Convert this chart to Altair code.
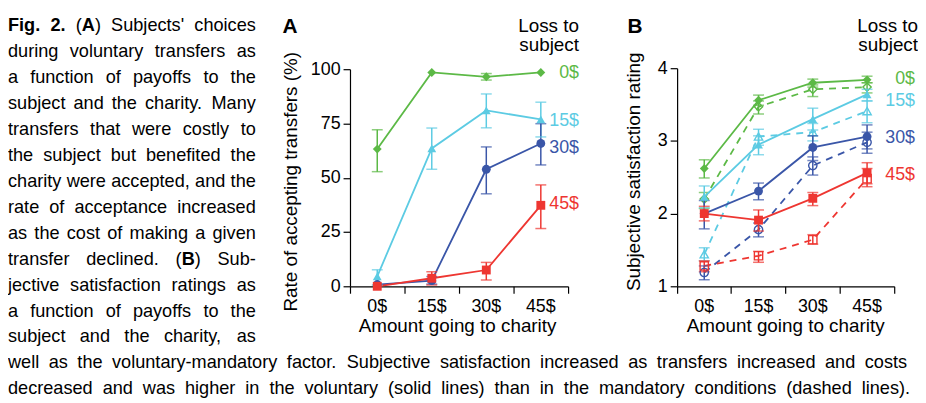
import altair as alt
import pandas as pd

FONT = "Liberation Sans"

# ---------------- data ----------------
amounts = ["0$", "15$", "30$", "45$"]
losses = ["0$", "15$", "30$", "45$"]
colors = ["#5cb946", "#5ccbe3", "#3a56a8", "#ee3631"]
shapes = ["diamond", "triangle-up", "circle", "square"]

# Panel A: rate of accepting transfers (%), rows = loss to subject, cols = amount to charity
a_mean = [[63.2, 98.5, 96.5, 98.5],
          [4.6, 63.5, 81.0, 76.9],
          [0.8, 2.6, 53.9, 65.8],
          [0.0, 3.7, 7.5, 37.3]]
a_lo = [[52.8, 98.5, 95.0, 98.5],
        [0.5, 53.9, 73.0, 68.8],
        [0.0, 1.0, 42.6, 55.9],
        [0.0, 0.6, 2.9, 26.6]]
a_hi = [[72.1, 98.5, 98.0, 98.5],
        [7.6, 72.9, 88.6, 84.8],
        [1.5, 4.5, 64.2, 74.9],
        [0.0, 6.7, 11.0, 46.7]]

# Panel B: subjective satisfaction, voluntary (solid)
bv_mean = [[2.62, 3.56, 3.80, 3.84],
           [2.23, 2.95, 3.30, 3.64],
           [2.00, 2.31, 2.91, 3.06],
           [2.00, 1.91, 2.21, 2.56]]
bv_lo = [[2.49, 3.49, 3.74, 3.80],
         [2.08, 2.81, 3.15, 3.55],
         [1.79, 2.19, 2.73, 2.89],
         [1.90, 1.76, 2.11, 2.41]]
bv_hi = [[2.74, 3.63, 3.85, 3.89],
         [2.38, 3.07, 3.45, 3.71],
         [2.18, 2.42, 3.07, 3.22],
         [2.10, 2.05, 2.29, 2.70]]
# Panel B: mandatory (dashed)
bm_mean = [[2.20, 3.47, 3.71, 3.74],
           [1.44, 3.06, 3.12, 3.41],
           [1.19, 1.78, 2.66, 2.98],
           [1.28, 1.42, 1.64, 2.48]]
bm_lo = [[2.07, 3.37, 3.61, 3.66],
         [1.35, 2.94, 3.00, 3.25],
         [1.09, 1.68, 2.53, 2.83],
         [1.20, 1.33, 1.58, 2.37]]
bm_hi = [[2.29, 3.55, 3.77, 3.80],
         [1.53, 3.16, 3.24, 3.55],
         [1.28, 1.87, 2.78, 3.12],
         [1.35, 1.48, 1.71, 2.62]]

caption_left = [
    "**Fig. 2.** (**A**) Subjects' choices",
    "during voluntary transfers as",
    "a function of payoffs to the",
    "subject and the charity. Many",
    "transfers that were costly to",
    "the subject but benefited the",
    "charity were accepted, and the",
    "rate of acceptance increased",
    "as the cost of making a given",
    "transfer declined. (**B**) Sub-",
    "jective satisfaction ratings as",
    "a function of payoffs to the",
    "subject and the charity, as",
]
caption_bottom = [
    "well as the voluntary-mandatory factor. Subjective satisfaction increased as transfers increased and costs",
    "decreased and was higher in the voluntary (solid lines) than in the mandatory conditions (dashed lines).",
]


def table(mean, lo, hi):
    rows = []
    for i, loss in enumerate(losses):
        for j, amt in enumerate(amounts):
            rows.append(dict(loss=loss, amount=amt, mean=mean[i][j], lo=lo[i][j], hi=hi[i][j]))
    return pd.DataFrame(rows)


dfA = table(a_mean, a_lo, a_hi)
dfBv = table(bv_mean, bv_lo, bv_hi)
dfBm = table(bm_mean, bm_lo, bm_hi)

# ---------------- layout constants (chart px) ----------------
W, H = 918, 395
X_AXIS_Y = 279

color_enc = alt.Color("loss:N", scale=alt.Scale(domain=losses, range=colors), legend=None)
shape_enc = alt.Shape("loss:N", scale=alt.Scale(domain=losses, range=shapes), legend=None)


def panel(parts, x_range, y_domain, y_top, y_values):
    xs = alt.Scale(type="band", domain=amounts, range=x_range, paddingInner=0, paddingOuter=0)
    ys = alt.Scale(domain=y_domain, range=[X_AXIS_Y, y_top], nice=False, zero=False)
    xax = alt.Axis(orient="bottom", offset=-(H - X_AXIS_Y), bandPosition=1, tickExtra=True,
                   tickSize=7, labelPadding=4, labelFontSize=18, labelFont=FONT, title=None,
                   grid=False, domainColor="black", tickColor="black", labelColor="black",
                   domainWidth=1.2, tickWidth=1.2, labelAngle=0)
    yax = alt.Axis(orient="left", offset=-x_range[0], values=y_values, tickSize=7, labelPadding=3,
                   labelFontSize=18, labelFont=FONT, title=None, grid=False,
                   domainColor="black", tickColor="black", labelColor="black",
                   domainWidth=1.2, tickWidth=1.2)
    X = alt.X("amount:N", scale=xs, axis=xax, sort=amounts)

    def Y(f):
        return alt.Y(f"{f}:Q", scale=ys, axis=yax)

    layers = []
    for df, dashed, filled in parts:
        err = df[(df["hi"] - df["lo"]) > 0.02 * (y_domain[1] - y_domain[0])]
        line_kw = dict(strokeWidth=1.8)
        if dashed:
            line_kw["strokeDash"] = [7, 6]
        base = alt.Chart(df)
        ebase = alt.Chart(err)
        layers.append(base.mark_line(**line_kw).encode(x=X, y=Y("mean"), color=color_enc))
        layers.append(ebase.mark_rule(strokeWidth=1.5).encode(x=X, y=Y("lo"), y2="hi", color=color_enc))
        layers.append(ebase.mark_tick(thickness=1.5, size=11).encode(x=X, y=Y("lo"), color=color_enc))
        layers.append(ebase.mark_tick(thickness=1.5, size=11).encode(x=X, y=Y("hi"), color=color_enc))
        if filled:
            pt = base.mark_point(filled=True, size=80, opacity=1)
        else:
            pt = base.mark_point(filled=False, size=70, strokeWidth=1.4, opacity=1)
        layers.append(pt.encode(x=X, y=Y("mean"), color=color_enc, shape=shape_enc))
    return alt.layer(*layers)


panelA = panel([(dfA, False, True)], [345, 565], [0, 100], 60, [0, 25, 50, 75, 100])
panelB = panel([(dfBm, True, False), (dfBv, False, True)], [675, 894], [1, 4], 59, [1, 2, 3, 4])


# ---------------- text helpers ----------------
def text_layer(df, **kw):
    kw.setdefault("font", FONT)
    kw.setdefault("color", "black")
    return alt.Chart(df).mark_text(**kw).encode(
        x=alt.X("x:Q", scale=None, axis=None),
        y=alt.Y("y:Q", scale=None, axis=None),
        text="t:N",
    )


# Arial / Liberation Sans advance widths (1/1000 em)
REG = {}
for chars, w in [(" ,.:;ftI", 278), ("'", 191), ("-r()", 333), ("ckszvxyJ", 500),
                 ("abdeghnopqu0123456789$L", 556), ("ijl", 222), ("mM", 833),
                 ("wCDHNRU", 722), ("ABEKPSVXY", 667), ("FTZ", 611), ("GOQ", 778),
                 ("W", 944), ("%", 889)]:
    for c in chars:
        REG[c] = w
BOLD = {"F": 611, "i": 278, "g": 611, ".": 278, "2": 556, "A": 722, "B": 722, " ": 278}


def run_w(t, bold):
    tab = BOLD if bold else REG
    return sum(tab.get(c, REG.get(c, 556) * (1.05 if bold else 1.0)) for c in t) / 1000.0


def parse(line):
    words = []
    bold = False
    for word in line.split(" "):
        runs = []
        segs = word.split("**")
        for k, s in enumerate(segs):
            if k > 0:
                bold = not bold
            if s:
                runs.append((s, bold))
        words.append(runs)
    return words


def natural(line):
    ws = parse(line)
    return sum(run_w(t, b) for w in ws for t, b in w) + 0.278 * (len(ws) - 1)


COL_W = 250.0
FULL_W = 907.0
LAST_W = 910.0
fs = 18.3
for ln in caption_left:
    fs = min(fs, COL_W / natural(ln))
for ln in caption_bottom:
    fs = min(fs, FULL_W / natural(ln))

cap_rows = []
LINE0, LEAD = 21.3, 26.2
all_lines = [(ln, COL_W) for ln in caption_left] + \
            [(caption_bottom[0], FULL_W), (caption_bottom[1], LAST_W)]
for i, (ln, width) in enumerate(all_lines):
    y = LINE0 + LEAD * i
    words = parse(ln)
    widths = [sum(run_w(t, b) for t, b in w) for w in words]
    gap = (width / fs - sum(widths)) / (len(words) - 1)
    x = 0.0
    for w, ww in zip(words, widths):
        xx = x
        for t, b in w:
            cap_rows.append(dict(x=xx * fs, y=y, t=t, bold=b))
            xx += run_w(t, b)
        x += ww + gap
cap_df = pd.DataFrame(cap_rows)

caption_reg = text_layer(cap_df[~cap_df["bold"]], fontSize=fs, align="left", baseline="alphabetic")
caption_bold = text_layer(cap_df[cap_df["bold"]], fontSize=fs, align="left", baseline="alphabetic",
                          fontWeight="bold")

panel_letters = text_layer(pd.DataFrame([dict(x=277, y=23, t="A"), dict(x=625, y=23, t="B")]),
                           fontSize=21, fontWeight="bold", align="left", baseline="alphabetic")

loss_title = text_layer(pd.DataFrame([
    dict(x=576, y=22.5, t="Loss to"), dict(x=576, y=42, t="subject"),
    dict(x=918, y=22.5, t="Loss to"), dict(x=918, y=42, t="subject")]),
    fontSize=19, align="right", baseline="alphabetic")

x_titles = text_layer(pd.DataFrame([
    dict(x=453.5, y=325, t="Amount going to charity"),
    dict(x=784.5, y=325, t="Amount going to charity")]),
    fontSize=19, align="center", baseline="alphabetic")

y_titleA = text_layer(pd.DataFrame([dict(x=286, y=173.5, t="Rate of accepting transfers (%)")]),
                      fontSize=19, align="center", baseline="middle", angle=270)
y_titleB = text_layer(pd.DataFrame([dict(x=632, y=163.5, t="Subjective satisfaction rating")]),
                      fontSize=19, align="center", baseline="middle", angle=270)

lab_df = pd.DataFrame([
    dict(x=576, y=63.5, t="0$", loss="0$"), dict(x=576, y=112.5, t="15$", loss="15$"),
    dict(x=576, y=139.5, t="30$", loss="30$"), dict(x=576, y=196.5, t="45$", loss="45$"),
    dict(x=915, y=69.5, t="0$", loss="0$"), dict(x=915, y=92.5, t="15$", loss="15$"),
    dict(x=915, y=129.5, t="30$", loss="30$"), dict(x=915, y=167, t="45$", loss="45$"),
])
series_labels = alt.Chart(lab_df).mark_text(font=FONT, fontSize=18, align="right", baseline="middle").encode(
    x=alt.X("x:Q", scale=None, axis=None),
    y=alt.Y("y:Q", scale=None, axis=None),
    text="t:N",
    color=color_enc,
)

chart = alt.layer(
    panelA, panelB, caption_reg, caption_bold, panel_letters, loss_title,
    x_titles, y_titleA, y_titleB, series_labels,
).resolve_scale(x="independent", y="independent").properties(
    width=W, height=H, autosize=alt.AutoSizeParams(type="none"), padding=0,
).configure_view(stroke=None)

chart.save("out.html", embed_options={"renderer": "svg", "actions": False})
